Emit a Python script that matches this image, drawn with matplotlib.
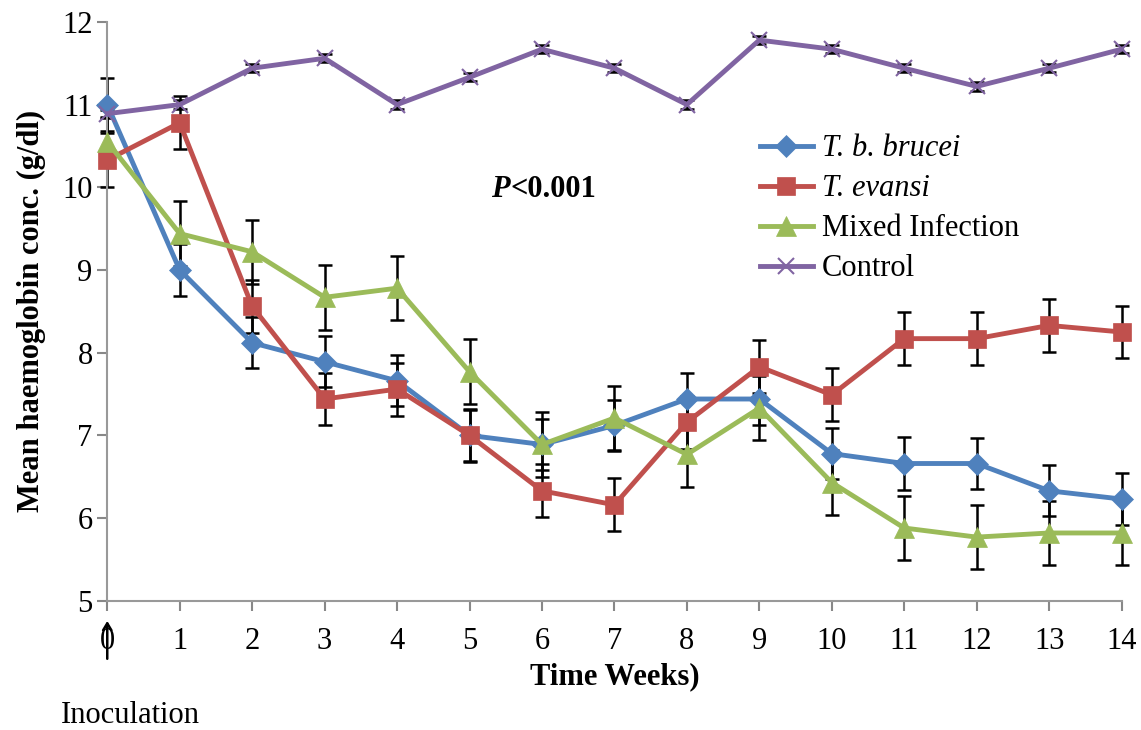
import matplotlib
matplotlib.use("Agg")
import matplotlib.pyplot as plt

plt.rcParams['font.family'] = 'Liberation Serif'

weeks = list(range(15))

# moyennes d'hemoglobine (g/dl)
brucei = [11.0, 9.0, 8.12, 7.89, 7.66, 7.0, 6.89, 7.12, 7.44, 7.44, 6.78, 6.66, 6.66, 6.33, 6.23]
evansi = [10.33, 10.78, 8.56, 7.44, 7.56, 7.0, 6.33, 6.16, 7.16, 7.83, 7.49, 8.17, 8.17, 8.33, 8.25]
mixed = [10.55, 9.44, 9.22, 8.67, 8.78, 7.77, 6.89, 7.21, 6.77, 7.33, 6.43, 5.88, 5.77, 5.82, 5.82]
control = [10.89, 11.0, 11.44, 11.56, 11.0, 11.33, 11.67, 11.44, 11.0, 11.78, 11.67, 11.44, 11.22, 11.44, 11.67]

# erreurs standard
brucei_err = [0.32, 0.31, 0.31, 0.31, 0.31, 0.31, 0.31, 0.31, 0.31, 0.31, 0.31, 0.32, 0.31, 0.31, 0.31]
evansi_err = [0.33, 0.32, 0.32, 0.32, 0.32, 0.32, 0.32, 0.32, 0.32, 0.32, 0.32, 0.32, 0.32, 0.32, 0.32]
mixed_err = [0.3, 0.39, 0.39, 0.39, 0.39, 0.39, 0.39, 0.39, 0.39, 0.39, 0.39, 0.39, 0.39, 0.39, 0.39]
control_err = [0.05, 0.05, 0.05, 0.05, 0.05, 0.05, 0.05, 0.05, 0.05, 0.05, 0.05, 0.05, 0.05, 0.05, 0.05]

fig = plt.figure(figsize=(11.41, 7.3), dpi=100)
ax = fig.add_axes([0.094, 0.177, 0.889, 0.793])

series = [
    (brucei, brucei_err, "#4F81BD", "D", 11, "T. b. brucei"),
    (evansi, evansi_err, "#C0504D", "s", 13, "T. evansi"),
    (mixed, mixed_err, "#9BBB59", "^", 14, "Mixed Infection"),
    (control, control_err, "#8064A2", "x", 12, "Control"),
]

for vals, err, col, mk, ms, lab in series:
    ax.errorbar(weeks, vals, yerr=err, fmt="none", ecolor="black",
                elinewidth=1.8, capsize=5, capthick=1.8, zorder=2, clip_on=False)
for vals, err, col, mk, ms, lab in series:
    ax.plot(weeks, vals, color=col, marker=mk, markersize=ms, linewidth=3.5,
            markeredgewidth=1.5 if mk == "x" else 0.5, markeredgecolor=col,
            label=lab, zorder=3, clip_on=False)

ax.set_xlim(0, 14)
ax.set_ylim(5, 12)
ax.set_xticks(weeks)
ax.set_yticks(range(5, 13))
ax.tick_params(labelsize=22, color="#888888", width=1.5, length=7, direction="out")
ax.tick_params(axis="x", pad=12)
for s in ["top", "right"]:
    ax.spines[s].set_visible(False)
for s in ["left", "bottom"]:
    ax.spines[s].set_color("#999999")
    ax.spines[s].set_linewidth(1.5)

ax.set_xlabel("Time Weeks)", fontsize=22, fontweight="bold", labelpad=4)
ax.set_ylabel("Mean haemoglobin conc. (g/dl)", fontsize=22, fontweight="bold", labelpad=12)

ax.text(5.56, 9.97, "P", fontsize=22, fontweight="bold", fontstyle="italic", ha="right", va="center")
ax.text(5.56, 9.97, "<0.001", fontsize=22, fontweight="bold", ha="left", va="center")

leg = ax.legend(loc="upper left", bbox_to_anchor=(0.628, 0.832), frameon=False, fontsize=22,
                handlelength=1.75, handletextpad=0.3, labelspacing=0.36, borderpad=0)
leg.get_texts()[0].set_fontstyle("italic")
leg.get_texts()[1].set_fontstyle("italic")

# fleche d'inoculation
ax.annotate("", xy=(0, -0.03), xytext=(0, -0.105), xycoords=("data", "axes fraction"),
            arrowprops=dict(arrowstyle="->,head_length=0.5,head_width=0.3", color="black", lw=1.8))
fig.text(0.053, 0.02, "Inoculation", fontsize=22, ha="left", va="center")

plt.savefig("out.png", dpi=100)
